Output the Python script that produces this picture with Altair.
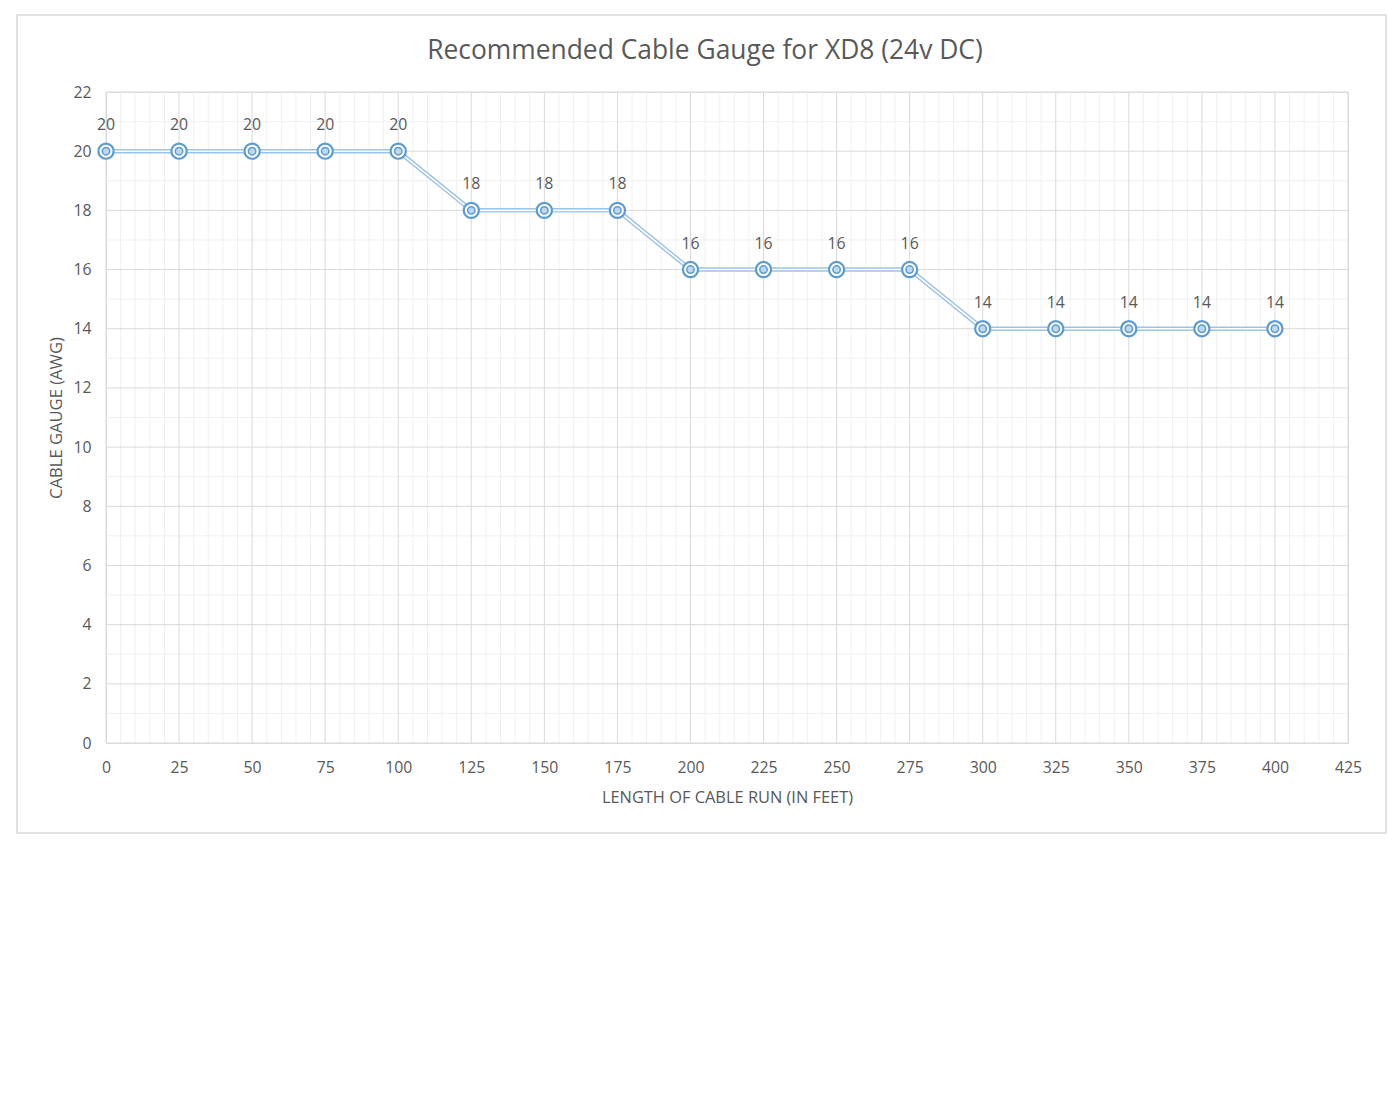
import altair as alt
import pandas as pd

lengths = [0, 25, 50, 75, 100, 125, 150, 175, 200, 225, 250, 275, 300, 325, 350, 375, 400]
gauges = [20, 20, 20, 20, 20, 18, 18, 18, 16, 16, 16, 16, 14, 14, 14, 14, 14]
x_ticks = list(range(0, 426, 25))
y_ticks = list(range(0, 23, 2))
x_minor = [v for v in range(0, 426, 5) if v % 25 != 0]
y_minor = [v for v in range(0, 23) if v % 2 != 0]

TITLE = "Recommended Cable Gauge for XD8 (24v DC)"
X_TITLE = "LENGTH OF CABLE RUN (IN FEET)"
Y_TITLE = "CABLE GAUGE (AWG)"

FONT = "Open Sans"
TXT = "#595959"
W, H = 1242, 651

df = pd.DataFrame({"len": lengths, "awg": gauges})

xs = alt.Scale(domain=[0, 425], nice=False, zero=False)
ys = alt.Scale(domain=[0, 22], nice=False, zero=False)

x_axis = alt.Axis(
    values=x_ticks, title=X_TITLE, grid=False, ticks=False, domain=False,
    labelFlush=False, labelOverlap=False,
    labelFont=FONT, labelFontSize=15.8, labelColor=TXT, labelPadding=17,
    titleFont=FONT, titleFontSize=16.4, titleColor=TXT, titleFontWeight="normal", titlePadding=15,
)
y_axis = alt.Axis(
    values=y_ticks, title=Y_TITLE, grid=False, ticks=False, domain=False,
    labelFlush=False, labelOverlap=False,
    labelFont=FONT, labelFontSize=15.8, labelColor=TXT, labelPadding=15,
    titleFont=FONT, titleFontSize=16.6, titleColor=TXT, titleFontWeight="normal", titlePadding=8,
)

box = alt.Chart(pd.DataFrame({"a": [0]})).mark_rect(
    fillOpacity=0, stroke="#d9d9d9", strokeWidth=1.5
).encode(x=alt.value(-89), x2=alt.value(1280), y=alt.value(-77), y2=alt.value(741))

vminor = alt.Chart(pd.DataFrame({"v": x_minor})).mark_rule(color="#f0f0f0", strokeWidth=1).encode(
    x=alt.X("v:Q", scale=xs, axis=x_axis)
)
hminor = alt.Chart(pd.DataFrame({"v": y_minor})).mark_rule(color="#f0f0f0", strokeWidth=1).encode(
    y=alt.Y("v:Q", scale=ys, axis=y_axis)
)
vmajor = alt.Chart(pd.DataFrame({"v": x_ticks})).mark_rule(color="#d9d9d9", strokeWidth=1).encode(
    x=alt.X("v:Q", scale=xs, axis=x_axis)
)
hmajor = alt.Chart(pd.DataFrame({"v": y_ticks})).mark_rule(color="#d9d9d9", strokeWidth=1).encode(
    y=alt.Y("v:Q", scale=ys, axis=y_axis)
)

base = alt.Chart(df).encode(
    x=alt.X("len:Q", scale=xs, axis=x_axis),
    y=alt.Y("awg:Q", scale=ys, axis=y_axis),
)

line_outer = base.mark_line(color="#9dc3e6", strokeWidth=4.5)
line_inner = base.mark_line(color="#ffffff", strokeWidth=1.6)
pt_outer = base.mark_point(shape="circle", size=230, filled=False, color="#5b9bd5", strokeWidth=2.2, fill="white", fillOpacity=1)
pt_inner = base.mark_point(shape="circle", size=55, filled=False, color="#5b9bd5", strokeWidth=1.5, fill="#bdd7ee", fillOpacity=1)
labels = base.mark_text(font=FONT, fontSize=15.8, color=TXT, dy=-26).encode(text="awg:Q")

title = alt.Chart(pd.DataFrame({"t": [TITLE]})).mark_text(
    font=FONT, fontSize=26.4, color=TXT, baseline="middle", align="center"
).encode(x=alt.value(599), y=alt.value(-41), text="t:N")

chart = alt.layer(
    box, vminor, hminor, vmajor, hmajor, line_outer, line_inner, pt_outer, pt_inner, labels, title
).properties(
    width=W, height=H,
    autosize=alt.AutoSizeParams(type="none"),
    padding={"left": 98, "top": 84, "right": 39, "bottom": 100},
).configure_view(stroke=None).configure(background="white")

chart.save("out.html", embed_options={"renderer": "svg", "actions": False})
